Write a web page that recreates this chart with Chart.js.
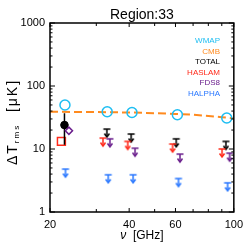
<!DOCTYPE html>
<html lang="en">
<head>
<meta charset="UTF-8">
<title>Region:33</title>
<style>
  body { margin: 0; background: #fff; }
  #wrap { width: 249px; height: 249px; }
</style>
</head>
<body>
<div id="wrap"><canvas id="chart"></canvas></div>
<script src="https://cdn.jsdelivr.net/npm/chart.js"></script>
<script>
// frequencies in GHz, values in uK
const wmapFreq = [22.8, 33, 41, 61, 94];
const wmapVals = [50, 39, 38, 35, 31];

const cmbFreq = [20, 30, 40, 50, 60, 70, 80, 90, 100];
const cmbVals = [39, 38.6, 38, 37, 36, 35, 33.5, 32, 30.5];

const totalFreq = [22.7];
const totalVals = [24];
const totalErrLo = [11.7];
const totalErrHi = [37];
const totalLimFreq = [32.9, 40.7, 60.4, 93.3];
const totalLimVals = [20.7, 17.3, 14.5, 13.2];

const haslamFreq = [22.1];
const haslamVals = [13.2];
const haslamLimFreq = [31.8, 39.5, 58.5, 90.2];
const haslamLimVals = [14.9, 13.2, 12.0, 10.0];

const fdsFreq = [23.6];
const fdsVals = [19.5];
const fdsLimFreq = [33.8, 42.1, 62.4, 96.4];
const fdsLimVals = [14.5, 10.3, 8.3, 8.6];

const halphaLimFreq = [22.9, 33.3, 41.4, 61.6, 94.7];
const halphaLimVals = [4.8, 3.9, 3.9, 3.4, 2.9];

const yTicks = [1, 10, 100, 1000];
const xTicks = [20, 40, 60, 100];
const xMinor = [30, 50, 70, 80, 90];

const legendNames = ['WMAP', 'CMB', 'TOTAL', 'HASLAM', 'FDS8', 'HALPHA'];
const legendColors = ['#1EBEF2', '#FF8A1E', '#000000', '#FF2A1A', '#6A1E8C', '#2A78FF'];

const FONT = '"Liberation Sans", Arial, sans-serif';

function pts(xs, ys) {
  return xs.map((x, i) => ({ x: x, y: ys[i] }));
}

// "T" with a down arrow = upper limit
function limitMarker(color) {
  const c = document.createElement('canvas');
  c.width = 10; c.height = 22;
  const g = c.getContext('2d');
  g.strokeStyle = color;
  g.lineWidth = 1.5;
  g.beginPath();
  g.moveTo(1.5, 11); g.lineTo(8.5, 11);
  g.moveTo(5, 11); g.lineTo(5, 18.5);
  g.stroke();
  g.beginPath();
  g.moveTo(2.5, 15.5); g.lineTo(5, 19); g.lineTo(7.5, 15.5);
  g.stroke();
  return c;
}

const decor = {
  id: 'decor',
  afterDatasetsDraw(chart) {
    const ctx = chart.ctx;
    const a = chart.chartArea;
    const x = chart.scales.x, y = chart.scales.y;
    ctx.save();
    ctx.strokeStyle = '#000';
    ctx.lineWidth = 1.5;
    ctx.strokeRect(a.left, a.top, a.right - a.left, a.bottom - a.top);

    ctx.lineWidth = 1;
    ctx.beginPath();
    for (let d = 1; d <= 1000; d *= 10) {
      for (let m = 1; m < 10; m++) {
        const v = d * m;
        if (v > 1000) break;
        const py = y.getPixelForValue(v);
        const len = m === 1 ? 5 : 2.5;
        ctx.moveTo(a.left, py); ctx.lineTo(a.left + len, py);
        ctx.moveTo(a.right, py); ctx.lineTo(a.right - len, py);
      }
    }
    xTicks.concat(xMinor).forEach(v => {
      const px = x.getPixelForValue(v);
      const len = xTicks.includes(v) ? 4 : 3;
      ctx.moveTo(px, a.bottom); ctx.lineTo(px, a.bottom - len);
      ctx.moveTo(px, a.top); ctx.lineTo(px, a.top + len);
    });
    ctx.stroke();

    // title
    ctx.fillStyle = '#000';
    ctx.textAlign = 'center';
    ctx.textBaseline = 'middle';
    ctx.font = '14px ' + FONT;
    ctx.fillText('Region:33', (a.left + a.right) / 2, 15);

    // legend
    ctx.textAlign = 'right';
    ctx.font = '8px ' + FONT;
    legendNames.forEach((n, i) => {
      ctx.fillStyle = legendColors[i];
      ctx.fillText(n, 220, a.top + 18 + i * 10.5);
    });

    // x title
    ctx.fillStyle = '#000';
    ctx.textAlign = 'left';
    ctx.font = 'italic 12px ' + FONT;
    const nu = '\u03bd';
    const rest = '  [GHz]';
    const w1 = ctx.measureText(nu).width;
    ctx.font = '12px ' + FONT;
    const w2 = ctx.measureText(rest).width;
    let sx = (a.left + a.right) / 2 - (w1 + w2) / 2;
    ctx.font = 'italic 12px ' + FONT;
    ctx.fillText(nu, sx, 236);
    ctx.font = '12px ' + FONT;
    ctx.fillText(rest, sx + w1, 236);

    // y title, rotated
    ctx.save();
    ctx.translate(13, 122);
    ctx.rotate(-Math.PI / 2);
    ctx.letterSpacing = '2px';
    ctx.font = '14px ' + FONT;
    const p1 = '\u0394T';
    const b1 = ctx.measureText(p1).width;
    ctx.font = '8px ' + FONT;
    const p2 = 'rms';
    const b2 = ctx.measureText(p2).width;
    ctx.font = '14px ' + FONT;
    const p3 = '  [\u03bcK]';
    const b3 = ctx.measureText(p3).width;
    let tx = -(b1 + b2 + b3) / 2;
    ctx.fillText(p1, tx, 0);
    ctx.font = '8px ' + FONT;
    ctx.fillText(p2, tx + b1, 4);
    ctx.font = '14px ' + FONT;
    ctx.fillText(p3, tx + b1 + b2, 0);
    ctx.restore();

    ctx.restore();
  }
};

new Chart(document.getElementById('chart'), {
  type: 'scatter',
  data: {
    datasets: [
      {
        label: 'HALPHA limits',
        data: pts(halphaLimFreq, halphaLimVals),
        pointStyle: limitMarker(legendColors[5]),
        pointRadius: 4
      },
      {
        label: 'FDS8 limits',
        data: pts(fdsLimFreq, fdsLimVals),
        pointStyle: limitMarker(legendColors[4]),
        pointRadius: 4
      },
      {
        label: 'HASLAM limits',
        data: pts(haslamLimFreq, haslamLimVals),
        pointStyle: limitMarker(legendColors[3]),
        pointRadius: 4
      },
      {
        label: 'TOTAL limits',
        data: pts(totalLimFreq, totalLimVals),
        pointStyle: limitMarker(legendColors[2]),
        pointRadius: 4
      },
      {
        label: 'FDS8',
        data: pts(fdsFreq, fdsVals),
        pointStyle: 'rectRot',
        pointRadius: 3.6,
        borderColor: legendColors[4],
        backgroundColor: 'rgba(0,0,0,0)',
        borderWidth: 1.5
      },
      {
        label: 'TOTAL',
        data: pts(totalFreq, totalVals),
        pointStyle: 'circle',
        pointRadius: 3.8,
        borderColor: '#000',
        backgroundColor: '#000',
        borderWidth: 1
      },
      {
        label: 'TOTAL err',
        data: [{ x: totalFreq[0], y: totalErrLo[0] }, { x: totalFreq[0], y: totalErrHi[0] }],
        showLine: true,
        borderColor: '#000',
        borderWidth: 1.5,
        pointRadius: 0
      },
      {
        label: 'HASLAM',
        data: pts(haslamFreq, haslamVals),
        pointStyle: 'rect',
        pointRadius: 5.6,
        borderColor: legendColors[3],
        backgroundColor: 'rgba(0,0,0,0)',
        borderWidth: 1.5
      },
      {
        label: 'WMAP',
        data: pts(wmapFreq, wmapVals),
        pointStyle: 'circle',
        pointRadius: 5,
        borderColor: legendColors[0],
        backgroundColor: 'rgba(0,0,0,0)',
        borderWidth: 1.5
      },
      {
        label: 'CMB',
        data: pts(cmbFreq, cmbVals),
        showLine: true,
        borderColor: legendColors[1],
        borderWidth: 2,
        borderDash: [8, 4],
        pointRadius: 0
      }
    ]
  },
  options: {
    responsive: true,
    maintainAspectRatio: false,
    animation: false,
    layout: { padding: { top: 23, right: 12, left: 0, bottom: 0 } },
    plugins: { legend: { display: false }, tooltip: { enabled: false } },
    scales: {
      x: {
        type: 'logarithmic',
        min: 20, max: 100,
        grid: { display: false, drawTicks: false },
        border: { display: false },
        afterBuildTicks: s => { s.ticks = xTicks.map(v => ({ value: v })); },
        afterFit: s => { s.height = 37; },
        ticks: {
          autoSkip: false, maxRotation: 0, padding: 6, color: '#000',
          font: { size: 11, family: FONT },
          callback: v => String(v)
        }
      },
      y: {
        type: 'logarithmic',
        min: 1, max: 1000,
        grid: { display: false, drawTicks: false },
        border: { display: false },
        afterBuildTicks: s => { s.ticks = yTicks.map(v => ({ value: v })); },
        afterFit: s => { s.width = 50; },
        ticks: {
          padding: 5, color: '#000',
          font: { size: 11, family: FONT },
          callback: v => String(v)
        }
      }
    }
  },
  plugins: [decor]
});
</script>
</body>
</html>
